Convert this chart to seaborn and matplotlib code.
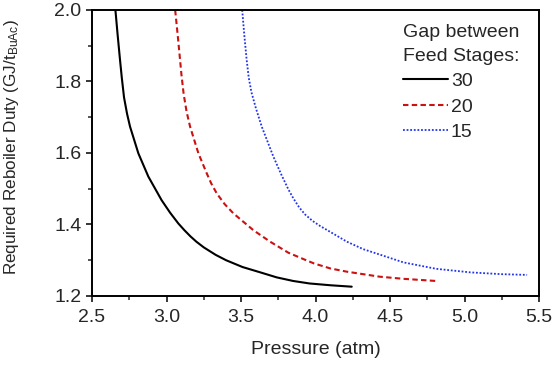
import matplotlib
matplotlib.use('Agg')

import matplotlib.pyplot as plt
import numpy as np
import pandas as pd
import seaborn as sns
from matplotlib import font_manager
from matplotlib.ticker import MultipleLocator

# ------------------------------------------------------------
#     Data
# ------------------------------------------------------------

# gap of 30 stages
p_30 = [2.657, 2.672, 2.688, 2.700, 2.715, 2.735, 2.755, 2.811, 2.878, 2.967, 3.024,
        3.079, 3.12, 3.16, 3.20, 3.25, 3.33, 3.40, 3.51, 3.63, 3.74, 3.85, 3.96, 4.10, 4.243]
d_30 = [2.000, 1.930, 1.860, 1.810, 1.755, 1.710, 1.674, 1.599, 1.534, 1.468, 1.433,
        1.403, 1.384, 1.367, 1.352, 1.336, 1.315, 1.300, 1.281, 1.266, 1.252, 1.242,
        1.235, 1.230, 1.226]

# gap of 20 stages
p_20 = [3.058, 3.075, 3.091, 3.100, 3.115, 3.135, 3.158, 3.214, 3.270, 3.30, 3.337,
        3.39, 3.449, 3.583, 3.695, 3.818, 3.92, 3.99, 4.10, 4.21, 4.32, 4.43, 4.59, 4.81]
d_20 = [2.000, 1.930, 1.860, 1.820, 1.765, 1.715, 1.674, 1.599, 1.543, 1.515, 1.487,
        1.457, 1.431, 1.384, 1.352, 1.321, 1.303, 1.291, 1.277, 1.268, 1.261, 1.254,
        1.248, 1.242]

# gap of 15 stages
p_15 = [3.508, 3.522, 3.538, 3.552, 3.570, 3.600, 3.639, 3.717, 3.770, 3.818, 3.85,
        3.89, 3.93, 3.98, 4.03, 4.10, 4.21, 4.32, 4.43, 4.59, 4.81, 5.04, 5.25, 5.42]
d_15 = [2.000, 1.930, 1.860, 1.810, 1.770, 1.725, 1.674, 1.590, 1.540, 1.498, 1.474,
        1.448, 1.428, 1.410, 1.396, 1.379, 1.352, 1.331, 1.316, 1.294, 1.276, 1.266,
        1.261, 1.259]

gaps = ["30", "20", "15"]

# ------------------------------------------------------------
#     Build long table
# ------------------------------------------------------------

frames = []
for g, p, d in zip(gaps, [p_30, p_20, p_15], [d_30, d_20, d_15]):
    frames.append(pd.DataFrame({"pressure": p, "duty": d, "gap": g}))
df = pd.concat(frames, ignore_index=True)

# ------------------------------------------------------------
#     Plot
# ------------------------------------------------------------

sns.set_style("ticks")
plt.rcParams['font.family'] = ['Liberation Sans', 'DejaVu Sans']

# the y label looks squeezed along its length, use the narrow cut if we have it
names = set(f.name for f in font_manager.fontManager.ttflist)
ylab_font = 'Liberation Sans Narrow' if 'Liberation Sans Narrow' in names else 'Liberation Sans'
ylab_size = 14.5 if ylab_font == 'Liberation Sans Narrow' else 12.3
plt.rcParams['mathtext.fontset'] = 'custom'
plt.rcParams['mathtext.rm'] = ylab_font
plt.rcParams['mathtext.it'] = ylab_font

fig = plt.figure(figsize=(5.53, 3.66), dpi=100)
ax = fig.add_axes([0.1664, 0.1913, 0.8083, 0.7814])

palette = {"30": "black", "20": "#cc1111", "15": "#2233ee"}
dashes = {"30": "", "20": (2.6, 1.6), "15": (1, 1)}

sns.lineplot(
    data=df, x="pressure", y="duty", hue="gap", style="gap",
    hue_order=gaps, style_order=gaps, palette=palette, dashes=dashes,
    sort=False, estimator=None, linewidth=1.5, ax=ax
)
for l in ax.lines:
    if l.get_color() == "#2233ee":
        l.set_linewidth(1.3)

ax.set_xlim(2.5, 5.5)
ax.set_ylim(1.2, 2.0)
ax.xaxis.set_major_locator(MultipleLocator(0.5))
ax.xaxis.set_minor_locator(MultipleLocator(0.25))
ax.yaxis.set_major_locator(MultipleLocator(0.2))
ax.yaxis.set_minor_locator(MultipleLocator(0.1))
ax.tick_params(which='major', direction='out', length=4.5, width=1.3, labelsize=14, pad=3)
ax.tick_params(axis='x', which='major', pad=5)
ax.tick_params(which='minor', direction='out', length=2.6, width=1.1)
for s in ax.spines.values():
    s.set_linewidth(1.4)
    s.set_color('black')

ax.set_xlabel('Pressure (atm)', fontsize=14, labelpad=11)
ax.set_ylabel('Required Reboiler Duty (GJ/t$_{\\mathrm{BuAc}}$)', fontsize=ylab_size,
              family=ylab_font)
ax.yaxis.set_label_coords(-0.158, 0.522)

handles, labels = ax.get_legend_handles_labels()
leg = ax.legend(
    handles, labels, title="Gap between\nFeed Stages:", frameon=False,
    loc='upper left', bbox_to_anchor=(0.696, 0.95), fontsize=14, title_fontsize=14,
    handlelength=2.3, handletextpad=0.15, labelspacing=0.4, borderaxespad=0.0,
    borderpad=0.0
)
leg._legend_box.align = "left"
leg.get_title().set_linespacing(1.5)

plt.savefig("out.png", dpi=100)
